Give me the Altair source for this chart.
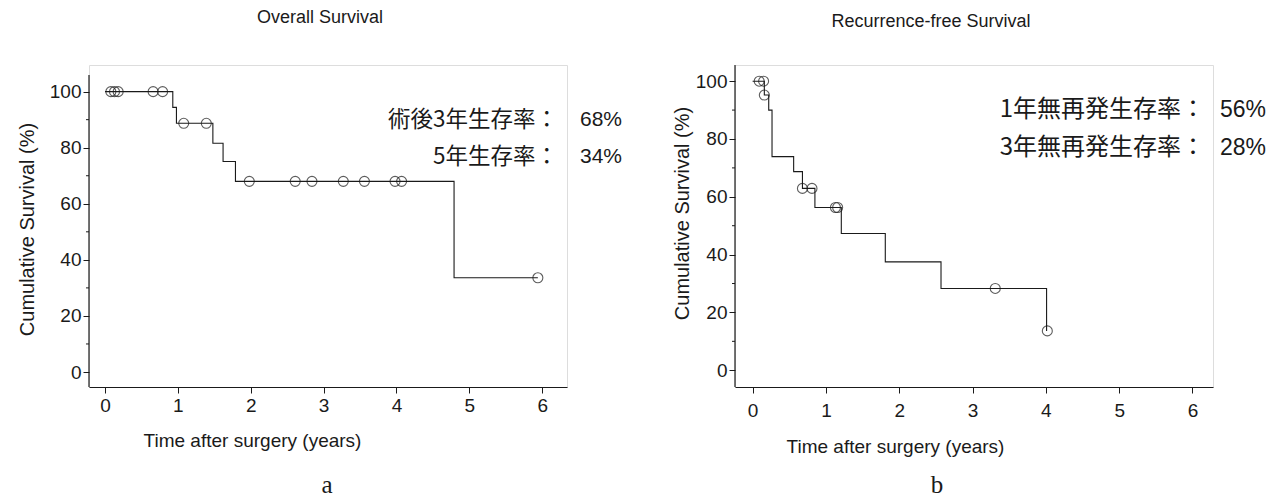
import altair as alt
import pandas as pd

# ---------------- data ----------------
# Panel a: Overall survival (Kaplan-Meier step points)
os_step_t = [0.0, 0.93, 0.98, 1.48, 1.62, 1.79, 4.79, 5.94]
os_step_v = [100, 94.4, 88.7, 81.6, 75.1, 68.0, 33.6, 33.6]
# censored observations (open circles)
os_cens_t = [0.08, 0.13, 0.18, 0.66, 0.79, 1.08, 1.39, 1.98, 2.61, 2.84, 3.27, 3.56, 3.98, 4.07, 5.94]
os_cens_v = [100, 100, 100, 100, 100, 88.7, 88.7, 68.0, 68.0, 68.0, 68.0, 68.0, 68.0, 68.0, 33.6]

# Panel b: Recurrence-free survival
rfs_step_t = [0.0, 0.16, 0.22, 0.265, 0.56, 0.68, 0.85, 1.21, 1.81, 2.57, 4.01]
rfs_step_v = [100, 95.2, 90.0, 73.9, 68.7, 62.9, 56.3, 47.3, 37.5, 28.3, 13.6]
rfs_cens_t = [0.09, 0.15, 0.16, 0.68, 0.81, 1.13, 1.16, 3.31, 4.02]
rfs_cens_v = [100, 100, 95.2, 62.9, 62.9, 56.3, 56.3, 28.3, 13.6]

x_ticks = [0, 1, 2, 3, 4, 5, 6]
y_ticks = [0, 20, 40, 60, 80, 100]
y_minor = [10, 30, 50, 70, 90]

titles = ["Overall Survival", "Recurrence-free Survival"]
x_title = "Time after surgery (years)"
y_title = "Cumulative Survival (%)"
ann_a_labels = ["術後3年生存率：", "5年生存率："]
ann_a_values = ["68%", "34%"]
ann_b_labels = ["1年無再発生存率：", "3年無再発生存率："]
ann_b_values = ["56%", "28%"]
panel_letters = ["a", "b"]

LAT = "Liberation Sans"
CJK = "Noto Sans CJK JP"
INK = "#1a1a1a"
W, H = 478, 322


def panel(step_t, step_v, cens_t, cens_v, xdom, ydom, ybar, title, tdx, toff,
          ytx, yty, xtx, xty, xlabpad, labels, values, ann_lx, ann_vx, ann_y,
          ann_fs, val_fs, letter, letter_x, px_per_year):
    sx = alt.Scale(domain=xdom, nice=False, zero=False)
    sy = alt.Scale(domain=ydom, nice=False, zero=False)
    xax = alt.Axis(values=x_ticks, grid=False, tickSize=6, tickColor=INK,
                   domainColor=INK, labelFont=LAT, labelFontSize=19,
                   labelColor=INK, labelPadding=xlabpad, title=x_title,
                   titleFont=LAT, titleFontSize=19, titleFontWeight="normal",
                   titleColor=INK, titleX=xtx, titleY=xty,
                   titleAlign="center", titleBaseline="middle")
    yax = alt.Axis(values=y_ticks, grid=False, tickSize=6, tickColor=INK,
                   domain=False, labelFont=LAT, labelFontSize=19,
                   labelColor=INK, title=y_title, titleFont=LAT,
                   titleFontSize=20, titleFontWeight="normal",
                   titleColor=INK, titleX=ytx, titleY=yty, titleAngle=270,
                   titleAlign="center", titleBaseline="middle")
    X = alt.X("t:Q", scale=sx, axis=xax)
    Y = alt.Y("v:Q", scale=sy, axis=yax)

    step_df = pd.DataFrame({"t": step_t, "v": step_v})
    cens_df = pd.DataFrame({"t": cens_t, "v": cens_v})
    line = alt.Chart(step_df).mark_line(interpolate="step-after", color=INK,
                                        strokeWidth=1.1).encode(x=X, y=Y)
    pts = alt.Chart(cens_df).mark_point(shape="circle", filled=False,
                                        color=INK, size=100,
                                        strokeWidth=1.1).encode(x=X, y=Y)
    # y axis line (only spans the drawn axis range)
    ydom_df = pd.DataFrame({"t": [xdom[0]], "v": [ybar[0]], "v2": [ybar[1]]})
    yline = alt.Chart(ydom_df).mark_rule(color=INK, strokeWidth=1.2).encode(
        x=X, y=Y, y2="v2:Q")
    # minor ticks on the y axis
    minor_df = pd.DataFrame({"t": [xdom[0] - 3.0 / px_per_year] * len(y_minor),
                             "t2": [xdom[0]] * len(y_minor),
                             "v": y_minor})
    minor = alt.Chart(minor_df).mark_rule(color=INK, strokeWidth=1).encode(
        x=X, x2="t2:Q", y=Y)

    layers = [line, pts, yline, minor]
    one = pd.DataFrame({"k": [0]})
    for i in range(2):
        layers.append(alt.Chart(one).mark_text(
            font=CJK, fontSize=ann_fs, align="right", baseline="middle",
            color=INK).encode(x=alt.value(ann_lx), y=alt.value(ann_y[i]),
                              text=alt.value(labels[i])))
        layers.append(alt.Chart(one).mark_text(
            font=LAT, fontSize=val_fs, align="left", baseline="middle",
            color=INK).encode(x=alt.value(ann_vx), y=alt.value(ann_y[i]),
                              text=alt.value(values[i])))
    layers.append(alt.Chart(one).mark_text(
        font="Liberation Serif", fontSize=25, align="center",
        baseline="middle", color=INK).encode(
            x=alt.value(letter_x), y=alt.value(420), text=alt.value(letter)))

    return alt.layer(*layers).properties(
        width=W, height=H,
        title=alt.TitleParams(text=title, font=LAT, fontSize=18,
                              fontWeight="normal", color=INK, dx=tdx,
                              offset=toff, anchor="middle"))


left = panel(os_step_t, os_step_v, os_cens_t, os_cens_v,
             xdom=[-0.22, 6.34], ydom=[-5.35, 109.5], ybar=[-5.35, 105.9],
             title=titles[0], tdx=-8, toff=38,
             ytx=-62, yty=164, xtx=163, xty=53, xlabpad=3,
             labels=ann_a_labels, values=ann_a_values,
             ann_lx=469, ann_vx=491, ann_y=[55, 92], ann_fs=22.5, val_fs=21,
             letter=panel_letters[0], letter_x=238, px_per_year=72.8)

right = panel(rfs_step_t, rfs_step_v, rfs_cens_t, rfs_cens_v,
              xdom=[-0.24, 6.28], ydom=[-5.8, 105.6], ybar=[-5.8, 105.6],
              title=titles[1], tdx=-43, toff=33,
              ytx=-53, yty=148, xtx=160, xty=59, xlabpad=8,
              labels=ann_b_labels, values=ann_b_values,
              ann_lx=470, ann_vx=485, ann_y=[45, 83], ann_fs=24, val_fs=23,
              letter=panel_letters[1], letter_x=202, px_per_year=73.5)

chart = alt.hconcat(left, right, spacing=168, bounds="flush").properties(
    padding={"left": 8, "top": 0, "right": 0, "bottom": 0}
).configure_view(stroke=None).configure(background="white")

chart.save("out.html", embed_options={"renderer": "svg", "actions": False})
